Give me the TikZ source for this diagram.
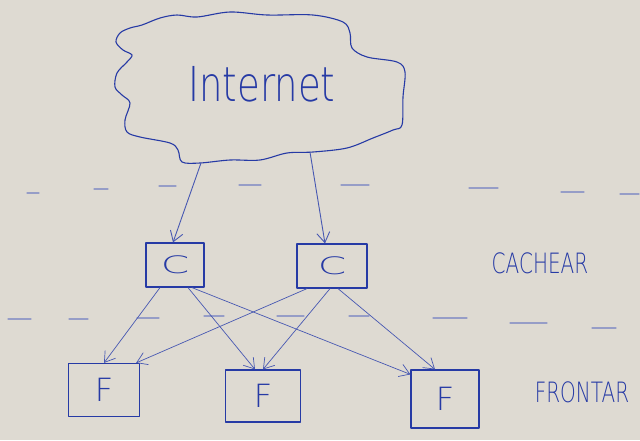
\documentclass[tikz,border=0pt]{standalone}
\usepackage{fontspec}
\usepackage{tikz}
\usetikzlibrary{arrows.meta}
\newfontfamily\hand{DejaVu Sans ExtraLight}
\definecolor{ink}{RGB}{38,58,165}
\definecolor{board}{RGB}{222,218,210}

\begin{document}
\begin{tikzpicture}[x=1pt,y=-1pt,line cap=round,line join=round,
  pen/.style={draw=ink,line width=1.1pt},
  cachebox/.style={pen,line width=1.2pt,inner sep=0pt,text=ink,
    font=\hand\fontsize{24}{24}\selectfont},
  frontbox/.style={pen,line width=1.2pt,inner sep=0pt,text=ink,
    font=\hand\fontsize{32}{32}\selectfont},
  link/.style={draw=ink!85,line width=0.7pt,
    -{Straight Barb[length=10pt,width=13pt]}},
  tag/.style={text=ink,font=\hand\fontsize{20}{20}\selectfont},
  seam/.style={draw=ink!70,line width=1.3pt,opacity=0.6}]

  % whiteboard
  \fill[board] (0,0) rectangle (640,440);
  \useasboundingbox (0,0) rectangle (640,440);

  % dashed tier lines
  \foreach \a/\b/\y in {27/39/193, 94/108/189, 159/176/186, 239/261/185,
      341/369/185, 469/498/188, 561/584/192, 620/639/194}{
    \draw[seam] (\a,\y) -- (\b,\y);
  }
  \foreach \a/\b/\y in {8/31/319, 69/88/319, 137/159/318, 204/224/316,
      277/304/316, 349/369/316, 433/467/318, 510/547/323, 592/616/328}{
    \draw[seam] (\a,\y) -- (\b,\y);
  }

  % cloud
  \draw[pen] plot[smooth cycle,tension=0.55] coordinates {
    (130,28) (142,25) (160,18) (177,15) (197,17) (230,12) (267,15)
    (313,15) (343,22) (350,33) (352,48) (367,57) (397,62) (405,72)
    (403,97) (402,125) (393,130) (373,138) (347,148) (313,152)
    (287,153) (260,160) (230,160) (200,163) (182,162) (178,150)
    (170,143) (140,137) (127,132) (125,120) (130,103) (122,95)
    (115,87) (117,73) (127,62) (132,55) (123,50) (116,42) (120,33)};
  \node[text=ink,font=\hand\fontsize{37}{37}\selectfont] (inet) at (262,84)
    {\scalebox{1}[1.3]{Internet}};
  \coordinate (inet-l) at (201,163);
  \coordinate (inet-r) at (310,152);

  % cache tier
  \node[cachebox,minimum width=58pt,minimum height=44pt] (c1) at (175,265)
    {\scalebox{1.7}[1]{C}};
  \node[cachebox,minimum width=70pt,minimum height=44pt] (c2) at (332,266)
    {\scalebox{1.7}[1]{C}};
  \node[tag] (cachear) at (540,263) {\scalebox{1}[1.4]{CACHEAR}};

  % frontend tier
  \node[frontbox,minimum width=71pt,minimum height=53pt] (f1) at (104,390) {F};
  \node[frontbox,minimum width=75pt,minimum height=52pt] (f2) at (263,396) {F};
  \node[frontbox,minimum width=68pt,minimum height=58pt] (f3) at (445,399) {F};
  \node[tag] (frontar) at (582,392) {\scalebox{1}[1.4]{FRONTAR}};

  % internet to caches
  \draw[link,line width=0.9pt] (inet-l) -- ([xshift=-2pt]c1.north);
  \draw[link,line width=0.9pt] (inet-r) -- ([xshift=-7pt]c2.north);

  % caches to frontends
  \draw[link] ([xshift=-15pt]c1.south) -- (f1.north);
  \draw[link] ([xshift=13pt]c1.south) -- ([xshift=-8pt]f2.north);
  \draw[link] ([xshift=17pt]c1.south) -- ([yshift=-5pt]f3.north west);
  \draw[link] ([xshift=-25pt]c2.south) -- ([xshift=-4pt]f1.north east);
  \draw[link] ([xshift=-2pt]c2.south) -- (f2.north);
  \draw[link] ([xshift=6pt]c2.south) -- ([xshift=-10pt]f3.north);
\end{tikzpicture}
\end{document}
